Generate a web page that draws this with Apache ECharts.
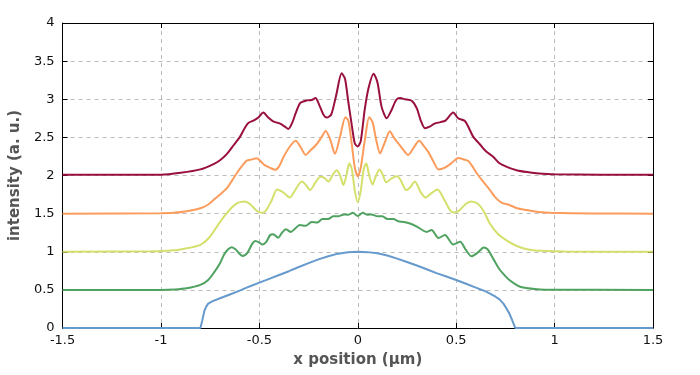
<!DOCTYPE html>
<html><head><meta charset="utf-8">
<script src="https://cdn.jsdelivr.net/npm/echarts@6/dist/echarts.min.js"></script>
<style>html,body{margin:0;padding:0;background:#fff}#c{width:700px;height:375px}</style>
</head><body><div id="c"></div>
<script>
const xTicks = [-1.5, -1, -0.5, 0, 0.5, 1, 1.5];
const yTicks = [0, 0.5, 1, 1.5, 2, 2.5, 3, 3.5, 4];

const blue = [[-1.5,0],[-0.8,0],[-0.79,0.10],[-0.78,0.22],[-0.77,0.28],[-0.76,0.32],[-0.74,0.35],[-0.7,0.39],[-0.65,0.44],[-0.6,0.49],[-0.55,0.545],[-0.5,0.595],[-0.45,0.645],[-0.4,0.695],[-0.35,0.745],[-0.3,0.80],[-0.25,0.85],[-0.2,0.90],[-0.15,0.94],[-0.1,0.975],[-0.05,0.993],[0,1.0],[0.05,0.995],[0.1,0.98],[0.15,0.95],[0.2,0.91],[0.25,0.865],[0.3,0.82],[0.35,0.77],[0.4,0.72],[0.45,0.675],[0.5,0.63],[0.55,0.58],[0.6,0.53],[0.65,0.48],[0.7,0.41],[0.72,0.375],[0.74,0.32],[0.755,0.26],[0.77,0.19],[0.785,0.10],[0.8,0],[1.5,0]];

const green = [[-1.5,0.5],[-1.0,0.5],[-0.93,0.505],[-0.87,0.52],[-0.8,0.565],[-0.76,0.63],[-0.73,0.73],[-0.70,0.85],[-0.68,0.96],[-0.66,1.03],[-0.64,1.06],[-0.62,1.03],[-0.6,0.97],[-0.585,0.945],[-0.56,0.99],[-0.535,1.11],[-0.52,1.14],[-0.5,1.12],[-0.485,1.095],[-0.465,1.13],[-0.445,1.22],[-0.43,1.23],[-0.405,1.185],[-0.385,1.25],[-0.365,1.295],[-0.34,1.26],[-0.32,1.30],[-0.295,1.35],[-0.265,1.34],[-0.235,1.39],[-0.205,1.385],[-0.18,1.43],[-0.15,1.43],[-0.125,1.465],[-0.10,1.465],[-0.07,1.49],[-0.05,1.485],[-0.025,1.51],[0.0,1.47],[0.025,1.51],[0.05,1.485],[0.07,1.49],[0.10,1.465],[0.125,1.465],[0.15,1.43],[0.18,1.43],[0.205,1.40],[0.235,1.39],[0.265,1.37],[0.3,1.33],[0.35,1.26],[0.375,1.285],[0.41,1.18],[0.443,1.22],[0.485,1.095],[0.52,1.13],[0.55,1.02],[0.578,0.94],[0.61,0.99],[0.64,1.056],[0.66,1.03],[0.69,0.9],[0.72,0.77],[0.75,0.68],[0.77,0.63],[0.81,0.56],[0.84,0.53],[0.9,0.51],[0.95,0.503],[1.5,0.5]];

const yellow = [[-1.5,1.0],[-1.05,1.005],[-0.95,1.015],[-0.88,1.04],[-0.8,1.09],[-0.75,1.2],[-0.716,1.33],[-0.68,1.46],[-0.64,1.58],[-0.61,1.64],[-0.575,1.66],[-0.545,1.62],[-0.515,1.54],[-0.49,1.51],[-0.47,1.53],[-0.44,1.66],[-0.41,1.815],[-0.38,1.78],[-0.345,1.71],[-0.32,1.80],[-0.285,1.92],[-0.265,1.88],[-0.243,1.81],[-0.215,1.91],[-0.19,1.985],[-0.17,1.97],[-0.149,1.92],[-0.125,2.02],[-0.107,2.07],[-0.09,2.0],[-0.073,1.875],[-0.058,2.0],[-0.043,2.16],[-0.03,2.08],[-0.015,1.8],[0,1.65],[0.015,1.8],[0.03,2.08],[0.043,2.16],[0.058,2.0],[0.075,1.88],[0.09,1.98],[0.11,2.08],[0.125,2.02],[0.145,1.91],[0.17,1.96],[0.2,1.99],[0.22,1.93],[0.245,1.81],[0.265,1.84],[0.29,1.92],[0.32,1.78],[0.345,1.71],[0.37,1.76],[0.405,1.815],[0.44,1.68],[0.47,1.54],[0.49,1.515],[0.515,1.54],[0.55,1.63],[0.578,1.66],[0.61,1.63],[0.64,1.53],[0.671,1.37],[0.71,1.24],[0.756,1.15],[0.8,1.085],[0.84,1.045],[0.9,1.015],[1.05,1.003],[1.5,1.0]];

const orange = [[-1.5,1.5],[-1.0,1.505],[-0.936,1.51],[-0.87,1.53],[-0.8,1.57],[-0.76,1.62],[-0.733,1.68],[-0.7,1.75],[-0.666,1.83],[-0.64,1.93],[-0.615,2.03],[-0.59,2.12],[-0.564,2.195],[-0.54,2.21],[-0.513,2.226],[-0.495,2.19],[-0.475,2.14],[-0.445,2.10],[-0.42,2.075],[-0.40,2.12],[-0.378,2.24],[-0.345,2.38],[-0.316,2.457],[-0.29,2.37],[-0.265,2.27],[-0.24,2.33],[-0.209,2.41],[-0.185,2.50],[-0.163,2.585],[-0.14,2.47],[-0.116,2.285],[-0.09,2.51],[-0.063,2.765],[-0.048,2.72],[-0.03,2.4],[-0.015,2.1],[0.0,1.99],[0.015,2.1],[0.035,2.45],[0.058,2.765],[0.075,2.7],[0.095,2.45],[0.113,2.29],[0.135,2.42],[0.163,2.58],[0.185,2.49],[0.206,2.42],[0.23,2.34],[0.256,2.27],[0.285,2.37],[0.312,2.455],[0.335,2.39],[0.358,2.31],[0.385,2.18],[0.41,2.08],[0.44,2.10],[0.48,2.17],[0.51,2.23],[0.54,2.21],[0.561,2.19],[0.585,2.11],[0.604,2.03],[0.637,1.92],[0.671,1.81],[0.7,1.71],[0.73,1.645],[0.773,1.61],[0.81,1.57],[0.857,1.547],[0.92,1.52],[0.976,1.51],[1.2,1.503],[1.5,1.5]];

const darkred = [[-1.5,2.01],[-1.0,2.01],[-0.9,2.035],[-0.8,2.08],[-0.733,2.15],[-0.7,2.20],[-0.666,2.28],[-0.63,2.40],[-0.598,2.51],[-0.575,2.62],[-0.556,2.69],[-0.53,2.72],[-0.505,2.76],[-0.48,2.825],[-0.455,2.76],[-0.43,2.71],[-0.395,2.68],[-0.37,2.64],[-0.353,2.61],[-0.335,2.68],[-0.315,2.82],[-0.293,2.95],[-0.26,2.985],[-0.235,2.99],[-0.215,3.015],[-0.195,2.92],[-0.175,2.80],[-0.158,2.76],[-0.135,2.80],[-0.11,3.05],[-0.082,3.34],[-0.065,3.27],[-0.05,3.0],[-0.03,2.65],[-0.015,2.42],[0.0,2.38],[0.015,2.45],[0.035,2.86],[0.055,3.15],[0.08,3.335],[0.1,3.22],[0.121,2.90],[0.147,2.75],[0.17,2.85],[0.195,2.99],[0.215,3.015],[0.24,3.0],[0.274,2.98],[0.3,2.88],[0.32,2.72],[0.341,2.62],[0.365,2.64],[0.39,2.68],[0.42,2.70],[0.445,2.72],[0.485,2.825],[0.51,2.75],[0.544,2.715],[0.565,2.62],[0.586,2.51],[0.62,2.41],[0.65,2.32],[0.688,2.245],[0.72,2.16],[0.76,2.11],[0.807,2.07],[0.86,2.045],[0.908,2.03],[1.0,2.015],[1.5,2.01]];

const seriesNames = ['blue', 'green', 'yellow', 'orange', 'darkred'];
const seriesData = [blue, green, yellow, orange, darkred];
const seriesColors = ['#6699cc', '#4fa25f', '#d5e06c', '#fc9c5c', '#990f3d'];

const FONT = 'DejaVu Sans';
const chart = echarts.init(document.getElementById('c'), null, {renderer: 'canvas'});
const fmt = v => String(v);
const baseX = {
  type: 'value', min: xTicks[0], max: xTicks[xTicks.length-1], interval: 0.5
};
const baseY = {
  type: 'value', min: yTicks[0], max: yTicks[yTicks.length-1], interval: 0.5
};
chart.setOption({
  animation: false,
  backgroundColor: '#fff',
  grid: {left: 62, right: 47, top: 23, bottom: 47, show: false},
  xAxis: [
    Object.assign({}, baseX, {
      position: 'bottom',
      name: 'x position (µm)', nameLocation: 'middle', nameGap: 25,
      nameTextStyle: {fontFamily: FONT, fontSize: 15, fontWeight: 'bold', color: '#555'},
      axisLine: {show: true, onZero: false, lineStyle: {color: '#000', width: 1}},
      axisTick: {show: true, inside: true, length: 5, lineStyle: {color: '#000'}},
      axisLabel: {fontFamily: FONT, fontSize: 13, color: '#111', margin: 6, formatter: fmt},
      splitLine: {show: true, lineStyle: {color: '#bbb', type: [4, 4], width: 1}}
    }),
    Object.assign({}, baseX, {
      position: 'top',
      axisLine: {show: true, onZero: false, lineStyle: {color: '#000', width: 1}},
      axisTick: {show: true, inside: true, length: 5, lineStyle: {color: '#000'}},
      axisLabel: {show: false},
      splitLine: {show: false}
    })
  ],
  yAxis: [
    Object.assign({}, baseY, {
      position: 'left',
      name: 'intensity (a. u.)', nameLocation: 'middle', nameGap: 39,
      nameTextStyle: {fontFamily: FONT, fontSize: 15, fontWeight: 'bold', color: '#555'},
      axisLine: {show: true, onZero: false, lineStyle: {color: '#000', width: 1}},
      axisTick: {show: true, inside: true, length: 5, lineStyle: {color: '#000'}},
      axisLabel: {fontFamily: FONT, fontSize: 13, color: '#111', margin: 8, formatter: fmt},
      splitLine: {show: true, lineStyle: {color: '#bbb', type: [4, 4], width: 1}}
    }),
    Object.assign({}, baseY, {
      position: 'right',
      axisLine: {show: true, onZero: false, lineStyle: {color: '#000', width: 1}},
      axisTick: {show: true, inside: true, length: 5, lineStyle: {color: '#000'}},
      axisLabel: {show: false},
      splitLine: {show: false}
    })
  ],
  series: seriesData.map((d, i) => ({
    name: seriesNames[i],
    type: 'line',
    data: d,
    xAxisIndex: 0, yAxisIndex: 0,
    showSymbol: false,
    smooth: i === 0 ? false : 0.25,
    lineStyle: {color: seriesColors[i], width: 2},
    itemStyle: {color: seriesColors[i]},
    z: 3 + i
  }))
});
</script>
</body></html>
